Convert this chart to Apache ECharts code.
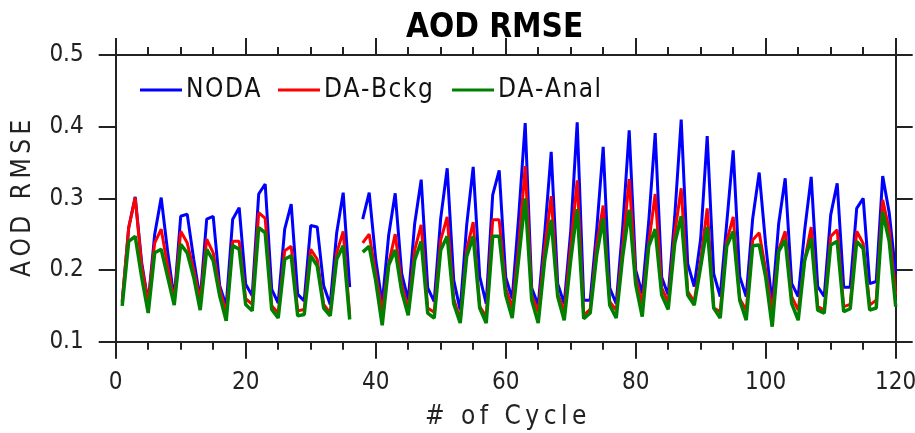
<!DOCTYPE html>
<html>
<head>
<meta charset="utf-8">
<script src="https://cdn.jsdelivr.net/npm/echarts@6/dist/echarts.min.js"></script>
<style>
html,body{margin:0;padding:0;background:#fff;}
#chart{width:915px;height:433px;}
</style>
</head>
<body>
<div id="chart"></div>
<script>
const FONT = "'DejaVu Sans Condensed', 'DejaVu Sans', sans-serif";
const titleText = 'AOD RMSE';
const xName = '# of Cycle';
const yName = 'AOD RMSE';
const seriesNames = ['NODA', 'DA-Bckg', 'DA-Anal'];
const seriesColors = ['#0000ff', '#ff0000', '#008000'];
const xTicks = [0, 20, 40, 60, 80, 100, 120];
const yTicks = [0.1, 0.2, 0.3, 0.4, 0.5];

const cycles = Array.from({length: 120}, (_, i) => i + 1);

const noda = [
0.155,0.259,0.302,0.21,0.155,0.25,0.301,0.225,0.159,0.275,
0.278,0.215,0.159,0.271,0.275,0.178,0.15,0.271,0.287,0.18,
0.164,0.306,0.32,0.173,0.154,0.257,0.292,0.166,0.157,0.262,
0.26,0.178,0.152,0.252,0.308,0.176,null,0.271,0.308,0.215,
0.153,0.249,0.307,0.195,0.158,0.265,0.326,0.175,0.156,0.272,
0.342,0.186,0.144,0.263,0.344,0.191,0.153,0.305,0.339,0.19,
0.16,0.275,0.405,0.175,0.151,0.251,0.365,0.181,0.153,0.254,
0.406,0.158,0.158,0.256,0.372,0.175,0.153,0.26,0.395,0.2,
0.167,0.267,0.391,0.19,0.165,0.274,0.41,0.209,0.177,0.244,
0.387,0.195,0.163,0.265,0.367,0.191,0.163,0.272,0.336,0.235,
0.153,0.265,0.328,0.181,0.163,0.256,0.33,0.177,0.163,0.277,
0.321,0.176,0.176,0.286,0.3,0.181,0.184,0.331,0.28,0.195
];
const daBckg = [
0.157,0.259,0.301,0.205,0.154,0.238,0.257,0.205,0.157,0.254,
0.238,0.2,0.157,0.243,0.224,0.173,0.14,0.24,0.24,0.16,
0.152,0.28,0.272,0.15,0.14,0.227,0.233,0.143,0.145,0.229,
0.215,0.152,0.14,0.224,0.254,0.136,null,0.238,0.25,0.195,
0.142,0.209,0.25,0.18,0.145,0.228,0.263,0.147,0.141,0.242,
0.274,0.16,0.13,0.228,0.267,0.149,0.135,0.27,0.27,0.175,
0.147,0.233,0.345,0.165,0.141,0.23,0.303,0.167,0.142,0.233,
0.325,0.137,0.145,0.235,0.29,0.156,0.144,0.233,0.327,0.19,
0.153,0.237,0.306,0.175,0.155,0.251,0.314,0.17,0.156,0.214,
0.286,0.147,0.142,0.24,0.274,0.16,0.144,0.242,0.252,0.2,
0.142,0.228,0.254,0.163,0.144,0.214,0.26,0.149,0.144,0.247,
0.256,0.149,0.152,0.254,0.237,0.151,0.158,0.298,0.256,0.165
];
const daAnal = [
0.15,0.24,0.247,0.19,0.14,0.224,0.229,0.19,0.151,0.236,
0.224,0.19,0.144,0.229,0.213,0.164,0.129,0.234,0.229,0.152,
0.143,0.259,0.252,0.145,0.133,0.215,0.22,0.136,0.138,0.22,
0.206,0.147,0.136,0.215,0.234,0.131,null,0.225,0.233,0.185,
0.123,0.207,0.228,0.17,0.137,0.214,0.24,0.14,0.133,0.228,
0.247,0.153,0.126,0.219,0.247,0.147,0.126,0.247,0.247,0.165,
0.133,0.216,0.3,0.158,0.126,0.214,0.27,0.163,0.13,0.214,
0.285,0.132,0.14,0.221,0.272,0.151,0.133,0.219,0.284,0.18,
0.135,0.233,0.257,0.165,0.145,0.237,0.275,0.165,0.151,0.205,
0.26,0.147,0.133,0.233,0.254,0.158,0.13,0.234,0.235,0.19,
0.121,0.226,0.242,0.153,0.13,0.214,0.244,0.144,0.14,0.235,
0.24,0.142,0.146,0.24,0.23,0.144,0.147,0.281,0.24,0.149
];
const seriesValues = [noda, daBckg, daAnal];

// letter spacing of the spaced-out labels (legend entries and axis names),
// drawn glyph by glyph so no canvas state is changed
const letterSpacingFor = {'NODA': 1.5, 'DA-Bckg': 1.5, 'DA-Anal': 1.5, '# of Cycle': 4.5, 'AOD RMSE': 4.5};
(function () {
  const P = CanvasRenderingContext2D.prototype;
  const orig = P.fillText;
  P.fillText = function (t, x, y, w) {
    const sp = letterSpacingFor[t];
    if (sp === undefined || /bold/.test(this.font)) {
      return w === undefined ? orig.call(this, t, x, y) : orig.call(this, t, x, y, w);
    }
    const chars = Array.from(t);
    const widths = chars.map(c => this.measureText(c).width);
    const total = widths.reduce((a, b) => a + b, 0) + sp * (chars.length - 1);
    const align = this.textAlign;
    let sx = x;
    if (align === 'center') sx = x - total / 2;
    else if (align === 'right' || align === 'end') sx = x - total;
    this.textAlign = 'left';
    for (let i = 0; i < chars.length; i++) {
      orig.call(this, chars[i], sx, y);
      sx += widths[i] + sp;
    }
    this.textAlign = align;
  };
})();

const AX = '#222';
function xAxisDef(pos, showLabel) {
  return {
    type: 'value', position: pos, min: xTicks[0], max: xTicks[xTicks.length - 1],
    interval: xTicks[1] - xTicks[0],
    axisLine: {show: true, onZero: false, lineStyle: {color: AX, width: 2}},
    axisTick: {show: true, inside: false, length: 17, lineStyle: {color: AX, width: 2}},
    minorTick: {show: true, splitNumber: 4, length: 8, lineStyle: {color: AX, width: 2}},
    splitLine: {show: false},
    axisLabel: {show: showLabel, color: '#222', fontSize: 24, fontFamily: FONT, margin: 29},
    name: showLabel ? xName : '', nameLocation: 'middle', nameGap: 63,
    nameTextStyle: {color: '#222', fontSize: 26, fontFamily: FONT}
  };
}
function yAxisDef(pos, showLabel) {
  return {
    type: 'value', position: pos, min: yTicks[0], max: yTicks[yTicks.length - 1],
    interval: 0.1,
    axisLine: {show: true, onZero: false, lineStyle: {color: AX, width: 2}},
    axisTick: {show: true, inside: false, length: 17, lineStyle: {color: AX, width: 2}},
    splitLine: {show: false},
    axisLabel: {show: showLabel, color: '#222', fontSize: 24, fontFamily: FONT, margin: 32,
      formatter: v => v.toFixed(1)},
    name: showLabel ? yName : '', nameLocation: 'middle', nameGap: 79,
    nameTextStyle: {color: '#222', fontSize: 26, fontFamily: FONT}
  };
}

const legendLefts = [135, 273, 447];

const chart = echarts.init(document.getElementById('chart'), null, {renderer: 'canvas'});
chart.setOption({
  animation: false,
  backgroundColor: '#fff',
  title: {
    text: titleText, left: 401, top: 7,
    textStyle: {color: '#000', fontSize: 33, fontWeight: 'bold', fontFamily: FONT}
  },
  legend: seriesNames.map((name, k) => ({
    left: legendLefts[k], top: 72, itemWidth: 42, itemHeight: 3, itemGap: 0,
    icon: 'rect',
    textStyle: {color: '#111', fontSize: 26, fontFamily: FONT, padding: [0, 0, 0, -1]},
    data: [name]
  })),
  grid: {left: 115.7, right: 19.3, top: 55, bottom: 91.3, containLabel: false, outerBoundsMode: 'none'},
  xAxis: [xAxisDef('bottom', true), xAxisDef('top', false)],
  yAxis: [yAxisDef('left', true), yAxisDef('right', false)],
  series: seriesNames.map((name, k) => ({
    name: name, type: 'line', xAxisIndex: 0, yAxisIndex: 0,
    symbol: 'none', connectNulls: false,
    color: seriesColors[k],
    lineStyle: {color: seriesColors[k], width: k === 2 ? 3.5 : 3},
    data: cycles.map((c, i) => [c, seriesValues[k][i]])
  }))
});
</script>
</body>
</html>
